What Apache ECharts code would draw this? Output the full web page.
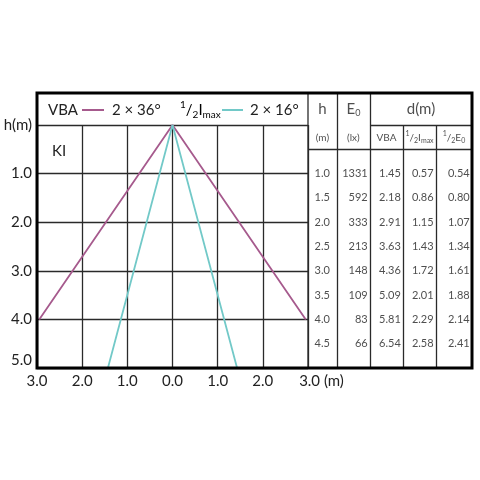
<!DOCTYPE html>
<html><head><meta charset="utf-8">
<script src="https://cdn.jsdelivr.net/npm/echarts@6/dist/echarts.min.js"></script>
<style>html,body{margin:0;padding:0;background:#fff}#c{width:480px;height:480px}</style>
</head><body><div id="c"></div>
<script>
// ---- data ----
const vbaLine = [[-2.95, 4.0], [0, 0], [2.95, 4.0]];   // VBA 2 x 36°
const imaxLine = [[-1.43, 5.0], [0, 0], [1.43, 5.0]];  // 1/2 Imax 2 x 16°
const hRows = [1.0, 1.5, 2.0, 2.5, 3.0, 3.5, 4.0, 4.5];
const e0Vals = [1331, 592, 333, 213, 148, 109, 83, 66];
const dVBA = [1.45, 2.18, 2.91, 3.63, 4.36, 5.09, 5.81, 6.54];
const dImax = [0.57, 0.86, 1.15, 1.43, 1.72, 2.01, 2.29, 2.58];
const dE0 = [0.54, 0.80, 1.07, 1.34, 1.61, 1.88, 2.14, 2.41];

// ---- layout ----
const L = 37, T = 93, R = 472, B = 368, PT = 125, SPLIT = 308;
const unitY = (B - PT) / 5;
const tMin = -(PT - T) / unitY;
const colEdges = [0, 0.88, 1.89, 2.9, 3.9, 5];
const FONT = 'Lato';
const INK = '#222';
const GRID = '#2a2a2a';
const PURPLE = '#a65a8d';
const CYAN = '#72c9c8';

const chart = echarts.init(document.getElementById('c'), null, {renderer: 'canvas'});

const numFmt = v => v.toFixed(2);
function colSeries(vals, col, fmt, alignRight) {
  const x = alignRight ? colEdges[col + 1] - 0.07 : colEdges[col] + 0.2;
  return {
    type: 'scatter', xAxisIndex: 1, yAxisIndex: 1, symbolSize: 0, silent: true,
    data: vals.map((v, i) => [x, hRows[i], fmt(v)]),
    label: {show: true, position: alignRight ? 'left' : 'right', distance: 0,
      formatter: p => p.value[2], fontFamily: FONT, fontSize: 11, color: INK}
  };
}
const center = c => (colEdges[c] + colEdges[c + 1]) / 2;
const rich = {
  sup: {fontSize: 7, verticalAlign: 'top', fontFamily: FONT, color: INK, lineHeight: 14},
  sl: {fontSize: 10, fontFamily: FONT, color: INK, lineHeight: 14},
  sub: {fontSize: 7, verticalAlign: 'bottom', fontFamily: FONT, color: INK, lineHeight: 14},
  n: {fontSize: 10, fontFamily: FONT, color: INK, lineHeight: 14},
  big: {fontSize: 15, fontFamily: FONT, color: INK, lineHeight: 18},
  bsub: {fontSize: 9, verticalAlign: 'bottom', fontFamily: FONT, color: INK, lineHeight: 18}
};
const headerCells = [
  [center(0), -0.33, '{big|h}'],
  [center(1), -0.33, '{big|E}{bsub|0}'],
  [(colEdges[2] + colEdges[5]) / 2, -0.33, '{big|d(m)}'],
  [center(0), 0.26, '{n|(m)}'],
  [center(1), 0.26, '{n|(lx)}'],
  [center(2), 0.26, '{n|VBA}'],
  [center(3), 0.26, '{sup|1}{sl|/}{sub|2}{n|I}{sub|max}'],
  [center(4), 0.26, '{sup|1}{sl|/}{sub|2}{n|E}{sub|0}']
];
const lineSty = {color: GRID, width: 1.3, type: 'solid'};
const tableLines = [
  [[colEdges[1], tMin], [colEdges[1], 5]],
  [[colEdges[2], tMin], [colEdges[2], 5]],
  [[colEdges[3], 0], [colEdges[3], 5]],
  [[colEdges[4], 0], [colEdges[4], 5]],
  [[colEdges[2], 0], [colEdges[5], 0]],
  [[colEdges[0], 0.5], [colEdges[5], 0.5]]
].map(s => [{coord: s[0]}, {coord: s[1]}]);

const axisLabelBase = {fontFamily: FONT, fontSize: 15, color: INK};
const legRich = {
  t: {fontSize: 15, fontFamily: FONT, color: INK, lineHeight: 20},
  sup: {fontSize: 10, verticalAlign: 'top', fontFamily: FONT, color: INK, lineHeight: 20},
  sl: {fontSize: 15, fontFamily: FONT, color: INK, lineHeight: 20},
  sub: {fontSize: 10, verticalAlign: 'bottom', fontFamily: FONT, color: INK, lineHeight: 20}
};
const LY = 110;

chart.setOption({
  animation: false,
  backgroundColor: '#fff',
  grid: [
    {left: L, top: PT, width: SPLIT - L, height: B - PT},
    {left: SPLIT, top: T, width: R - SPLIT, height: B - T}
  ],
  xAxis: [
    {type: 'value', gridIndex: 0, min: -3, max: 3, interval: 1,
      axisLine: {show: false}, axisTick: {show: false},
      splitLine: {show: true, lineStyle: {color: GRID, width: 1.3}},
      axisLabel: Object.assign({}, axisLabelBase, {margin: 6,
        formatter: v => v === 3 ? '{p|}3.0 (m)' : Math.abs(v).toFixed(1),
        rich: {p: {width: 27}}})},
    {type: 'value', gridIndex: 1, min: 0, max: 5, show: false}
  ],
  yAxis: [
    {type: 'value', gridIndex: 0, min: 0, max: 5, interval: 1, inverse: true,
      axisLine: {show: false}, axisTick: {show: false},
      splitLine: {show: true, lineStyle: {color: GRID, width: 1.3}},
      axisLabel: Object.assign({}, axisLabelBase, {margin: 5,
        verticalAlignMaxLabel: 'bottom',
        formatter: v => v === 0 ? 'h(m)' : v.toFixed(1)})},
    {type: 'value', gridIndex: 1, min: tMin, max: 5, inverse: true, show: false}
  ],
  series: [
    {type: 'line', name: 'VBA', data: vbaLine, showSymbol: false, silent: true,
      lineStyle: {color: PURPLE, width: 1.8}, itemStyle: {color: PURPLE}},
    {type: 'line', name: 'Imax', data: imaxLine, showSymbol: false, silent: true,
      lineStyle: {color: CYAN, width: 1.8}, itemStyle: {color: CYAN}},
    {type: 'scatter', xAxisIndex: 1, yAxisIndex: 1, symbolSize: 0, silent: true,
      data: headerCells,
      label: {show: true, position: 'inside', formatter: p => p.value[2], rich: rich},
      markLine: {silent: true, symbol: 'none', label: {show: false}, lineStyle: lineSty,
        emphasis: {disabled: true}, data: tableLines}},
    colSeries(hRows, 0, v => v.toFixed(1), false),
    colSeries(e0Vals, 1, v => String(v), true),
    colSeries(dVBA, 2, numFmt, true),
    colSeries(dImax, 3, numFmt, true),
    colSeries(dE0, 4, numFmt, true)
  ],
  graphic: [
    {type: 'rect', shape: {x: L, y: T, width: R - L, height: B - T}, z: 100,
      style: {fill: 'none', stroke: '#000', lineWidth: 3}},
    {type: 'line', shape: {x1: SPLIT, y1: T, x2: SPLIT, y2: B}, z: 99,
      style: {stroke: GRID, lineWidth: 1.3}},
    {type: 'text', x: 48, y: LY, z: 100, style: {text: 'VBA', font: '15px ' + FONT, fill: INK, verticalAlign: 'middle'}},
    {type: 'line', shape: {x1: 82, y1: LY, x2: 104, y2: LY}, z: 100, style: {stroke: PURPLE, lineWidth: 2}},
    {type: 'text', x: 112, y: LY, z: 100, style: {text: '2 × 36°', font: '15px ' + FONT, fill: INK, verticalAlign: 'middle'}},
    {type: 'text', x: 180, y: LY, z: 100, style: {text: '{sup|1}{sl|/}{sub|2}{t|I}{sub|max}', rich: legRich, verticalAlign: 'middle'}},
    {type: 'line', shape: {x1: 222, y1: LY, x2: 243, y2: LY}, z: 100, style: {stroke: CYAN, lineWidth: 2}},
    {type: 'text', x: 250, y: LY, z: 100, style: {text: '2 × 16°', font: '15px ' + FONT, fill: INK, verticalAlign: 'middle'}},
    {type: 'text', x: 52, y: 151, z: 100, style: {text: 'KI', font: '15px ' + FONT, fill: INK, verticalAlign: 'middle'}}
  ]
});
</script></body></html>
